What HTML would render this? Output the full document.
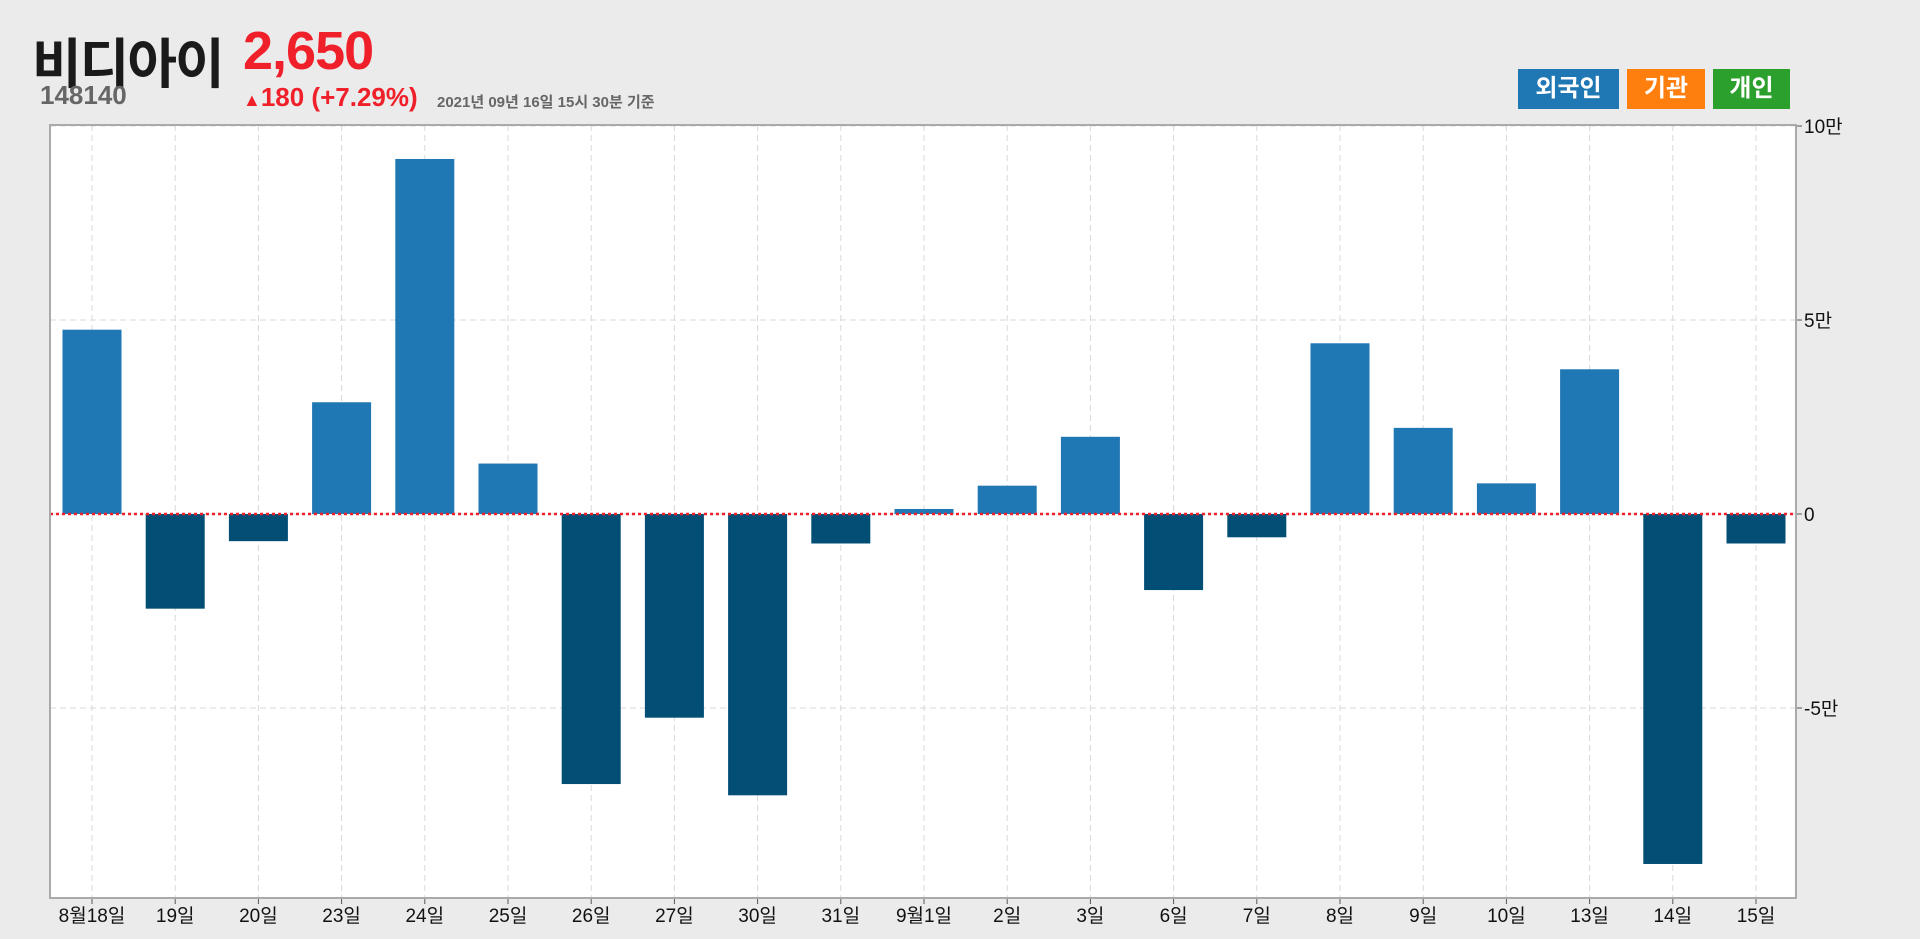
<!DOCTYPE html>
<html><head><meta charset="utf-8"><style>
body{margin:0;width:1920px;height:939px;background:#ebebeb;font-family:"Liberation Sans","Noto Sans CJK KR",sans-serif;overflow:hidden;position:relative}
.abs{position:absolute;white-space:nowrap}
.btn{position:absolute;top:69px;height:40px;color:#fff;font-weight:bold;font-size:24px;line-height:40px;text-align:center}
</style></head><body>
<div class="abs" style="left:32px;top:20px;font-size:54px;font-weight:bold;color:#1a1a1a;letter-spacing:-2px">비디아이</div>
<div class="abs" style="left:243px;top:20px;font-size:54px;font-weight:bold;color:#f0202a;letter-spacing:-1px">2,650</div>
<div class="abs" style="left:40px;top:80px;font-size:26px;font-weight:bold;color:#666">148140</div>
<div class="abs" style="left:243px;top:82px;font-size:26px;font-weight:bold;color:#f0202a"><span style="font-size:18px">▲</span>180 (+7.29%)</div>
<div class="abs" style="left:437px;top:91px;font-size:15px;font-weight:bold;color:#666">2021년 09년 16일 15시 30분 기준</div>
<div class="btn" style="left:1518px;width:101px;background:#1f77b4">외국인</div>
<div class="btn" style="left:1627px;width:78px;background:#ff7f0e">기관</div>
<div class="btn" style="left:1713px;width:77px;background:#2ca02c">개인</div>
<svg id="chart" width="1920" height="939" style="position:absolute;left:0;top:0"></svg>
<script>
const categories=["8월18일","19일","20일","23일","24일","25일","26일","27일","30일","31일","9월1일","2일","3일","6일","7일","8일","9일","10일","13일","14일","15일"];
const values=[47500,-24400,-7000,28800,91500,13000,-69600,-52500,-72500,-7600,1300,7300,19900,-19600,-6000,44000,22200,7900,37300,-90200,-7600];
const tickValues=[100000,50000,0,-50000];
const tickLabels=["10만","5만","0","-5만"];
const NS="http://www.w3.org/2000/svg";
const svg=document.getElementById('chart');
const L=50,R=1796,T=125,B=898;
const y=v=>514-v*194/50000;
const step=(1756-92)/(categories.length-1);
const x=i=>92+i*step;
const bw=59;
function mk(t,a){const e=document.createElementNS(NS,t);for(const k in a)e.setAttribute(k,a[k]);svg.appendChild(e);return e;}
const bg=mk('rect',{x:L,y:T,width:R-L,height:B-T,fill:'#fff'});


tickValues.forEach((v,i)=>{
  const g=mk('line',{x1:L,x2:R,y1:y(v),y2:y(v),stroke:'#d8d8d8','stroke-dasharray':'6,4'});
  
  
  const tk=mk('line',{x1:R,x2:R+6,y1:y(v),y2:y(v),stroke:'#555'});
  
  
  const t=mk('text',{x:R+8,y:y(v)+7,'font-size':19,fill:'#111'});
  t.textContent=tickLabels[i];
  
  
});
categories.forEach((c,i)=>{
  const g=mk('line',{x1:x(i),x2:x(i),y1:T,y2:B,stroke:'#d8d8d8','stroke-dasharray':'6,4'});
  
  
  const tk=mk('line',{x1:x(i),x2:x(i),y1:B,y2:B+6,stroke:'#555'});
  
  
  const t=mk('text',{x:x(i),y:B+24,'font-size':19,fill:'#111','text-anchor':'middle'});
  t.textContent=c;
  
  
});
values.forEach((v,i)=>{
  const y0=y(0),y1=y(v);
  const b=mk('rect',{x:x(i)-bw/2,y:Math.min(y0,y1),width:bw,height:Math.abs(y1-y0),fill:v>=0?'#1f77b4':'#024e75'});
  
  
});
const z=mk('line',{x1:L,x2:R,y1:y(0),y2:y(0),stroke:'#f0202a','stroke-width':2.5,'stroke-dasharray':'3,3'});


const fr=mk('rect',{x:L,y:T,width:R-L,height:B-T,fill:'none',stroke:'#aaa','stroke-width':2});


</script>
</body></html>
